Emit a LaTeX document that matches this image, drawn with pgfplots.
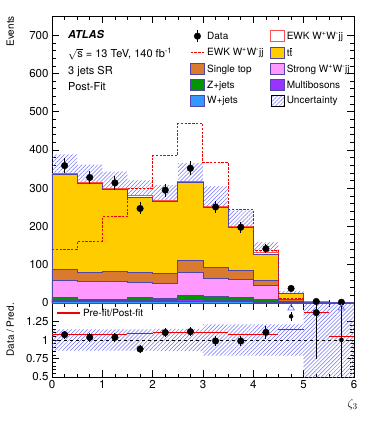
\documentclass[border=0pt]{standalone}
\usepackage{fontspec}
\setmainfont{TeX Gyre Heros}
\usepackage{pgfplots}
\pgfplotsset{compat=1.18}
\usepgfplotslibrary{fillbetween}
\usetikzlibrary{patterns.meta}

\definecolor{ttbar}{RGB}{255,204,0}
\definecolor{stop}{RGB}{217,122,46}
\definecolor{strong}{RGB}{255,153,255}
\definecolor{zjets}{RGB}{0,150,0}
\definecolor{multib}{RGB}{153,51,255}
\definecolor{wjets}{RGB}{51,153,255}
\definecolor{ewk}{RGB}{255,80,80}
\definecolor{edge}{RGB}{80,70,170}
\definecolor{hatch}{RGB}{110,110,255}
\definecolor{prefit}{RGB}{240,0,0}

\pgfplotsset{
  atlas/.style={scale only axis, width=302pt, xmin=0, xmax=6,
    tick align=inside, major tick length=7pt, minor tick length=3.5pt,
    minor x tick num=3, tick style={black, line width=0.5pt},
    ticklabel style={font=\fontsize{11.5}{13}\selectfont},
    /pgf/number format/assume math mode=true,
    axis line style={line width=0.8pt},
    label style={font=\fontsize{11}{13}\selectfont},
    every axis y label/.style={at={(axis description cs:-0.125,1)}, anchor=south east, rotate=90, inner sep=0pt},
  },
  hist/.style={const plot mark left, line width=0.8pt, draw=edge, forget plot},
  boxleg/.style={legend image code/.code={\draw[##1] (0pt,-5.5pt) rectangle (13.5pt,5.5pt);}},
}
\tikzset{txt/.style={anchor=base west, inner sep=0pt, font=\fontsize{11}{13}\selectfont}}

\begin{document}
\begin{tikzpicture}
% ---- main panel ----
\begin{axis}[atlas, name=main, at={(0pt,0pt)}, anchor=south west, height=287pt,
  ymin=0, ymax=750, ytick={0,100,...,700}, minor y tick num=4,
  xtick={0,1,...,6}, xticklabel=\empty,
  ylabel={Events},
  legend columns=2,
  legend cell align=left,
  legend style={at={(axis description cs:0.447,0.96)}, anchor=north west,
    draw=none, fill=none, font=\fontsize{10}{12}\selectfont, row sep=3pt,
    /tikz/every even column/.append style={column sep=5pt}},
]
% stack, cumulative from the top layer down
\addplot[hist, fill=white, draw=ewk] coordinates {(0,339) (0.5,316) (1,300) (1.5,280) (2,268) (2.5,318) (3,252) (3.5,200) (4,131) (4.5,26) (5,2.9) (5.5,1.3) (6,1.3)} \closedcycle;
\addplot[hist, fill=ttbar] coordinates {(0,336) (0.5,313) (1,297) (1.5,277) (2,265) (2.5,314) (3,249) (3.5,197) (4,128) (4.5,25) (5,2.7) (5.5,1.2) (6,1.2)} \closedcycle;
\addplot[hist, fill=stop] coordinates {(0,88) (0.5,80) (1,83) (1.5,80) (2,77) (2.5,112) (3,92) (3.5,84) (4,59) (4.5,9) (5,1.5) (5.5,0.7) (6,0.7)} \closedcycle;
\addplot[hist, fill=strong] coordinates {(0,60) (0.5,56) (1,56) (1.5,53) (2,51) (2.5,79) (3,63) (3.5,62) (4,45) (4.5,5) (5,1.0) (5.5,0.5) (6,0.5)} \closedcycle;
\addplot[hist, fill=zjets] coordinates {(0,14) (0.5,10) (1,10) (1.5,14) (2,13) (2.5,19) (3,17) (3.5,14) (4,10) (4.5,3) (5,0.6) (5.5,0.3) (6,0.3)} \closedcycle;
\addplot[hist, fill=multib] coordinates {(0,7) (0.5,6) (1,6) (1.5,7) (2,7) (2.5,9) (3,8) (3.5,7) (4,5) (4.5,2) (5,0.4) (5.5,0.2) (6,0.2)} \closedcycle;
\addplot[hist, fill=wjets] coordinates {(0,3) (0.5,3) (1,3) (1.5,3) (2,3) (2.5,4) (3,3) (3.5,3) (4,2) (4.5,1) (5,0.2) (5.5,0.1) (6,0.1)} \closedcycle;

% uncertainty band
\addplot[const plot mark left, draw=none, name path=bu, forget plot] coordinates {(0,388.2) (0.5,361.8) (1,343.5) (1.5,320.6) (2,308.2) (2.5,365.7) (3,304.9) (3.5,242) (4,158.5) (4.5,31.5) (5,4.6) (5.5,2.1) (6,2.1)};
\addplot[const plot mark left, draw=none, name path=bl, forget plot] coordinates {(0,289.8) (0.5,270.2) (1,256.5) (1.5,239.4) (2,227.8) (2.5,270.3) (3,199.1) (3.5,158) (4,103.5) (4.5,20.5) (5,1.2) (5.5,0.5) (6,0.5)};
\addplot[pattern={Lines[angle=45,distance=2.8pt,line width=0.5pt]}, pattern color=hatch, forget plot] fill between[of=bu and bl];

% pre-fit EWK
\addplot[const plot mark left, draw=prefit, line width=1pt, dash pattern=on 2.4pt off 1.4pt, forget plot] coordinates {(0,140) (0.5,162) (1,225) (1.5,300) (2,385) (2.5,469) (3,367) (3.5,245) (4,138) (4.5,12) (5,0)};

% data
\addplot[only marks, mark=*, mark size=3.3pt, black, forget plot,
  error bars/.cd, y dir=both, y explicit, error mark=none, error bar style={line width=0.9pt}]
  coordinates {(0.25,359) +- (0,18.9) (0.75,328) +- (0,18.1) (1.25,314) +- (0,17.7) (1.75,247) +- (0,15.7) (2.25,295) +- (0,17.2) (2.75,352) +- (0,18.8) (3.25,251) +- (0,15.8) (3.75,198) +- (0,14.1) (4.25,142) +- (0,11.9) (4.75,38) +- (0,6.2) (5.25,4) +- (0,2) (5.75,2) +- (0,1.4)};

% legend
\addlegendimage{legend image code/.code={\draw[black, line width=0.9pt] (6.75pt,-6pt) -- (6.75pt,6pt); \fill[black] (6.75pt,0pt) circle (3.3pt);}}
\addlegendentry{Data}
\addlegendimage{boxleg, fill=white, draw=ewk, line width=0.8pt}
\addlegendentry{EWK W\textsuperscript{+}W\textsuperscript{-}jj}
\addlegendimage{legend image code/.code={\draw[prefit, line width=1pt, dash pattern=on 2.4pt off 1.4pt] (0pt,0pt) -- (14pt,0pt);}}
\addlegendentry{EWK W\textsuperscript{+}W\textsuperscript{-}jj}
\addlegendimage{boxleg, fill=ttbar, draw=edge, line width=0.8pt}
\addlegendentry{t$\overline{\mbox{t}}$}
\addlegendimage{boxleg, fill=stop, draw=edge, line width=0.8pt}
\addlegendentry{Single top}
\addlegendimage{boxleg, fill=strong, draw=edge, line width=0.8pt}
\addlegendentry{Strong W\textsuperscript{+}W\textsuperscript{-}jj}
\addlegendimage{boxleg, fill=zjets, draw=edge, line width=0.8pt}
\addlegendentry{Z+jets}
\addlegendimage{boxleg, fill=multib, draw=edge, line width=0.8pt}
\addlegendentry{Multibosons}
\addlegendimage{boxleg, fill=wjets, draw=edge, line width=0.8pt}
\addlegendentry{W+jets}
\addlegendimage{boxleg, draw=none, pattern={Lines[angle=45,distance=2.8pt,line width=0.5pt]}, pattern color=hatch}
\addlegendentry{Uncertainty}

\node[txt, font=\fontsize{11}{13}\selectfont\bfseries\itshape] at (axis description cs:0.053,0.92) {ATLAS};
\node[txt] at (axis description cs:0.053,0.855) {$\sqrt{\mbox{s}}$ = 13 TeV, 140 fb\textsuperscript{-1}};
\node[txt] at (axis description cs:0.053,0.797) {3 jets SR};
\node[txt] at (axis description cs:0.053,0.742) {Post-Fit};
\end{axis}

% ---- ratio panel ----
\begin{axis}[atlas, name=ratio, at={(0pt,0pt)}, anchor=north west, height=74pt,
  ymin=0.5, ymax=1.5, ytick={0.5,0.75,1,1.25}, yticklabels={0.5,0.75,1,1.25},
  minor y tick num=4, xtick={0,1,...,6},
  ylabel={Data / Pred.},
  xlabel={$\zeta_3$},
  xlabel style={at={(axis description cs:1,-0.3)}, anchor=north east, inner sep=0pt, xshift=4pt, font=\fontsize{13}{15}\selectfont},
  legend style={at={(axis description cs:0.005,0.98)}, anchor=north west,
    draw=none, fill=none, font=\fontsize{10}{12}\selectfont},
]
\addplot[const plot mark left, draw=none, name path=ru, forget plot] coordinates {(0,1.145) (0.5,1.145) (1,1.145) (1.5,1.145) (2,1.15) (2.5,1.15) (3,1.21) (3.5,1.21) (4,1.21) (4.5,1.21) (5,1.6) (5.5,1.6) (6,1.6)};
\addplot[const plot mark left, draw=none, name path=rl, forget plot] coordinates {(0,0.855) (0.5,0.855) (1,0.855) (1.5,0.855) (2,0.85) (2.5,0.85) (3,0.79) (3.5,0.79) (4,0.79) (4.5,0.79) (5,0.4) (5.5,0.4) (6,0.4)};
\addplot[pattern={Lines[angle=45,distance=2.8pt,line width=0.5pt]}, pattern color=hatch, forget plot] fill between[of=ru and rl];

\addplot[black, dashed, line width=0.6pt, forget plot] coordinates {(0,1) (6,1)};

\addplot[jump mark left, draw=prefit, line width=1pt, forget plot] coordinates {(0,1.081) (0.5,1.081) (1,1.072) (1.5,1.086) (2,1.10) (2.5,1.108) (3,1.104) (3.5,1.081) (4,1.072) (4.5,1.136) (5,1.37) (5.5,1.054) (6,1.054)};
\addlegendimage{legend image code/.code={\draw[prefit, line width=1.3pt] (0pt,0pt) -- (23pt,0pt);}}
\addlegendentry{Pre-fit/Post-fit}

% data / prediction
\addplot[only marks, mark=*, mark size=3.3pt, black, forget plot,
  error bars/.cd, y dir=both, y explicit, error mark=none, error bar style={line width=0.9pt}]
  coordinates {(0.25,1.072) +- (0,0.056) (0.75,1.036) +- (0,0.057) (1.25,1.036) +- (0,0.059) (1.75,0.878) +- (0,0.056) (2.25,1.10) +- (0,0.064) (2.75,1.113) +- (0,0.059) (3.25,0.986) +- (0,0.063) (3.75,0.986) +- (0,0.07) (4.25,1.104) +- (0,0.091) (5.25,1.37) +- (0,0.62)};
% off-scale points: error bars and arrows
\addplot[only marks, mark=none, black, forget plot,
  error bars/.cd, y dir=both, y explicit, error mark=none, error bar style={line width=0.9pt}]
  coordinates {(4.75,1.32) +- (0,0.06) (5.75,1.0) +- (0,0.5)};
\addplot[only marks, mark=triangle, mark size=3.8pt, color=hatch, mark options={line width=0.8pt}, forget plot] coordinates {(4.75,1.43) (5.75,1.43)};
\end{axis}

\pgfresetboundingbox
\path (-52pt,-118pt) rectangle (322pt,303pt);
\end{tikzpicture}
\end{document}
